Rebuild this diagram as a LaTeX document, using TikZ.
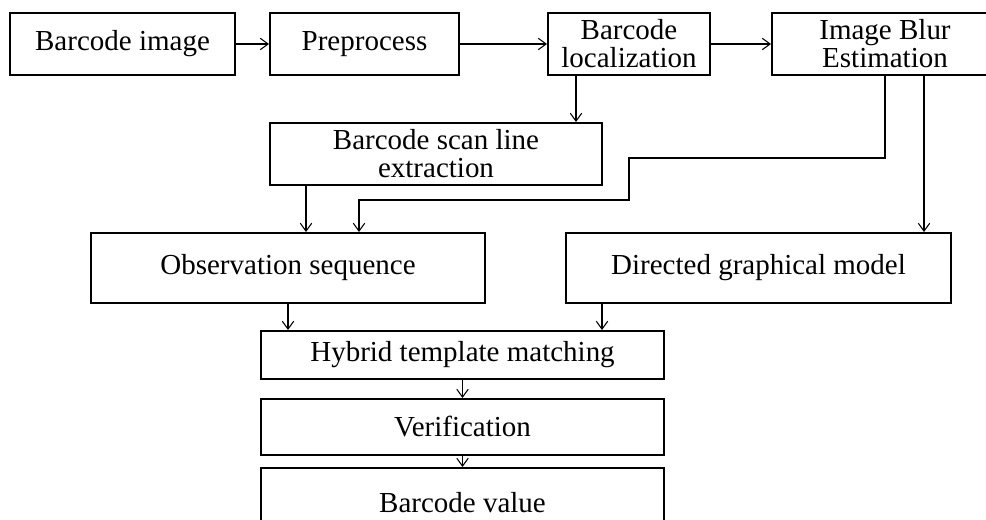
\documentclass[tikz,border=0pt]{standalone}
\usepackage{fontspec}
\setmainfont{Liberation Serif}
\usepackage{tikz}
\usetikzlibrary{arrows.meta,positioning}

\begin{document}
\begin{tikzpicture}[
  font=\fontsize{16.5pt}{16pt}\selectfont,
  >={Straight Barb[length=4.5pt,width=6.5pt]},
  stage/.style={draw, line width=1.1pt, rectangle, align=center, inner sep=0pt},
  link/.style={->, line width=0.6pt}
]

\clip (0,0) rectangle (19.72,10.4);
\useasboundingbox (0,0) rectangle (19.72,10.4);

% =========================================================
% Top row
% =========================================================
\node[stage, minimum width=4.50cm, minimum height=1.24cm] (img)  at (2.45,9.52)  {Barcode image};
\node[stage, minimum width=3.78cm, minimum height=1.24cm] (pre)  at (7.29,9.52)  {Preprocess};
\node[stage, minimum width=3.24cm, minimum height=1.24cm] (loc)  at (12.58,9.52) {Barcode\\localization};
\node[stage, minimum width=4.52cm, minimum height=1.24cm] (blur) at (17.70,9.52) {Image Blur\\Estimation};

% Scan line
\node[stage, minimum width=6.64cm, minimum height=1.24cm] (scan) at (8.72,7.32) {Barcode scan line\\extraction};

% =========================================================
% Middle row
% =========================================================
\node[stage, minimum width=7.88cm, minimum height=1.40cm] (obs) at (5.76,5.04)  {Observation sequence};
\node[stage, minimum width=7.70cm, minimum height=1.40cm] (dgm) at (15.17,5.04) {Directed graphical model};

% =========================================================
% Bottom column
% =========================================================
\node[stage, minimum width=8.06cm, minimum height=0.96cm] (hyb) at (9.25,3.30) {Hybrid template matching};
\node[stage, minimum width=8.06cm, minimum height=1.12cm] (ver) at (9.25,1.86) {Verification};
\node[stage, minimum width=8.06cm, minimum height=1.40cm] (val) at (9.25,0.34) {Barcode value};

% Connectors
\draw[link] (img) -- (pre);
\draw[link] (pre) -- (loc);
\draw[link] (loc) -- (blur);
\draw[link] ([xshift=-1.06cm]loc.south) -- ([xshift=-1.06cm]loc.south |- scan.north);
\draw[link] ([xshift=-2.60cm]scan.south) -- ([xshift=-2.60cm]scan.south |- obs.north);
\draw[link] (blur.south) -- (blur.south |- 0,7.24) -| (12.58,6.40) -| ([xshift=1.42cm]obs.north);
\draw[link] ([xshift=0.78cm]blur.south) -- ([xshift=0.78cm]blur.south |- dgm.north);
\draw[link] (obs.south) -- (obs.south |- hyb.north);
\draw[link] ([xshift=-3.13cm]dgm.south) -- ([xshift=-3.13cm]dgm.south |- hyb.north);
\draw[link] (hyb) -- (ver);
\draw[link] (ver) -- (val);

\end{tikzpicture}
\end{document}
